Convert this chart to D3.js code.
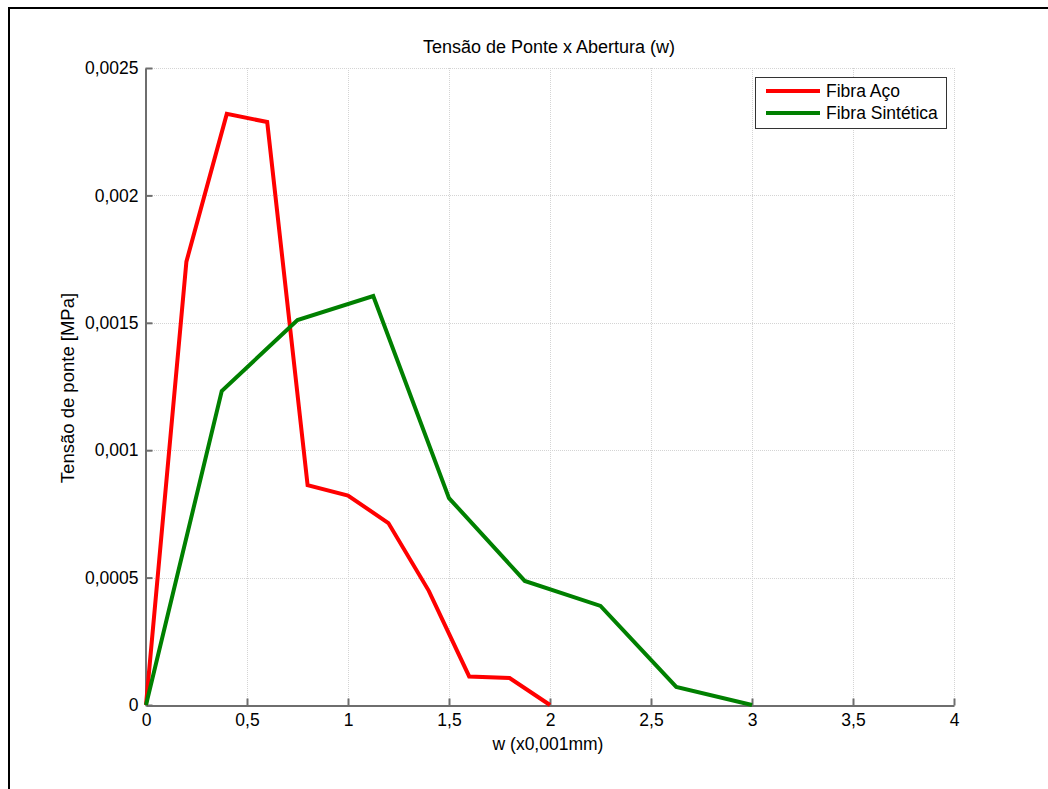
<!DOCTYPE html>
<html>
<head>
<meta charset="utf-8">
<script src="https://cdn.jsdelivr.net/npm/d3@7"></script>
<style>
  html, body { margin: 0; padding: 0; background: #fff; }
  svg { display: block; font-family: "Liberation Sans", Arial, sans-serif; }
</style>
</head>
<body>
<svg id="chart" width="1048" height="789"></svg>
<script>
// Bridging stress vs. crack opening for two fibre types
const wAco = [0, 0.2, 0.4, 0.6, 0.8, 1.0, 1.2, 1.4, 1.6, 1.8, 2.0];
const tensaoAco = [0, 0.00174, 0.00232, 0.002288, 0.000863, 0.000822, 0.000714, 0.000448, 0.000112, 0.000106, 0];

const wSintetica = [0, 0.375, 0.75, 1.125, 1.5, 1.875, 2.25, 2.625, 3.0];
const tensaoSintetica = [0, 0.001232, 0.001511, 0.001605, 0.000812, 0.000487, 0.000389, 0.0000707, 0];

const xTicks = [0, 0.5, 1, 1.5, 2, 2.5, 3, 3.5, 4];
const yTicks = [0, 0.0005, 0.001, 0.0015, 0.002, 0.0025];
const yTickLabels = ["0", "0,0005", "0,001", "0,0015", "0,002", "0,0025"];
const xTickLabels = ["0", "0,5", "1", "1,5", "2", "2,5", "3", "3,5", "4"];

const seriesNames = ["Fibra Aço", "Fibra Sintética"];
const seriesColors = ["#ff0000", "#008000"];

const svg = d3.select("#chart");
const plotLeft = 146, plotRight = 954, plotTop = 68, plotBottom = 705;

const x = d3.scaleLinear().domain([0, 4]).range([plotLeft, plotRight]);
const y = d3.scaleLinear().domain([0, 0.0025]).range([plotBottom, plotTop]);

// figure frame
svg.append("rect")
  .attr("x", 9).attr("y", 8).attr("width", 1100).attr("height", 900)
  .attr("fill", "none").attr("stroke", "#000").attr("stroke-width", 2);

// grid
const grid = svg.append("g").attr("stroke", "#d4d4d4").attr("stroke-width", 1).attr("stroke-dasharray", "1,1");
grid.selectAll("line.v").data(xTicks.slice(1)).join("line")
  .attr("x1", d => Math.round(x(d)) + 0.5).attr("x2", d => Math.round(x(d)) + 0.5)
  .attr("y1", plotTop).attr("y2", plotBottom);
grid.selectAll("line.h").data(yTicks.slice(1)).join("line")
  .attr("y1", d => Math.round(y(d)) + 0.5).attr("y2", d => Math.round(y(d)) + 0.5)
  .attr("x1", plotLeft).attr("x2", plotRight);

// axes
const axisColor = "#6e6e6e";
const xAxis = d3.axisBottom(x).tickValues(xTicks).tickFormat((d, i) => xTickLabels[i]).tickSizeInner(-7).tickSizeOuter(0).tickPadding(14);
const yAxis = d3.axisLeft(y).tickValues(yTicks).tickFormat((d, i) => yTickLabels[i]).tickSizeInner(-7).tickSizeOuter(0).tickPadding(14);

const gx = svg.append("g").attr("transform", `translate(0,${plotBottom + 0.5})`).call(xAxis);
const gy = svg.append("g").attr("transform", `translate(${plotLeft - 0.5},0)`).call(yAxis);
[gx, gy].forEach(g => {
  g.select(".domain").attr("stroke", axisColor).attr("stroke-width", 2);
  g.selectAll(".tick line").attr("stroke", axisColor).attr("stroke-width", 2);
  g.selectAll(".tick text").attr("fill", "#000").attr("font-size", 17.5)
    .attr("font-family", "'Liberation Sans', Arial, sans-serif");
});
gx.selectAll(".tick text").attr("dy", "0.71em").attr("y", 8);
gy.selectAll(".tick text").attr("x", -7);

// series
const line = d3.line().x(d => x(d[0])).y(d => y(d[1]));
const series = [
  d3.zip(wAco, tensaoAco),
  d3.zip(wSintetica, tensaoSintetica)
];
svg.append("g").selectAll("path").data(series).join("path")
  .attr("d", line)
  .attr("fill", "none")
  .attr("stroke", (d, i) => seriesColors[i])
  .attr("stroke-width", 4)
  .attr("stroke-linejoin", "miter");

// title and axis labels
svg.append("text").attr("x", 549).attr("y", 53).attr("text-anchor", "middle")
  .attr("font-size", 18).text("Tensão de Ponte x Abertura (w)");
svg.append("text").attr("x", 548).attr("y", 750).attr("text-anchor", "middle")
  .attr("font-size", 17.5).text("w (x0,001mm)");
svg.append("text").attr("transform", "translate(74,388) rotate(-90)").attr("text-anchor", "middle")
  .attr("font-size", 18.5).text("Tensão de ponte [MPa]");

// legend
const lg = svg.append("g");
lg.append("rect").attr("x", 755.5).attr("y", 77.5).attr("width", 191).attr("height", 51)
  .attr("fill", "#fff").attr("stroke", "#333").attr("stroke-width", 1);
seriesNames.forEach((name, i) => {
  const yy = 91 + i * 22;
  lg.append("line").attr("x1", 766).attr("x2", 820).attr("y1", yy).attr("y2", yy)
    .attr("stroke", seriesColors[i]).attr("stroke-width", 4);
  lg.append("text").attr("x", 826).attr("y", yy + 6).attr("font-size", 17.5).text(name);
});
</script>
</body>
</html>
